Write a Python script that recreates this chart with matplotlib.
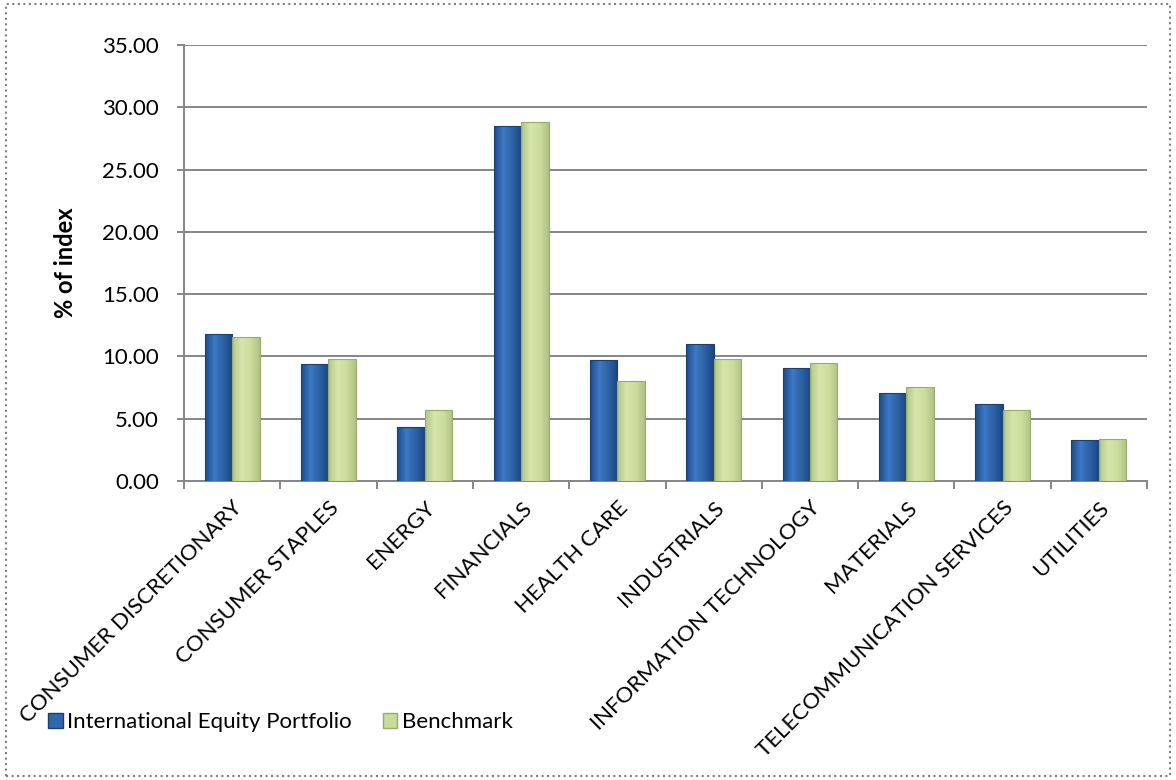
import numpy as np
import matplotlib
matplotlib.use("Agg")
import matplotlib.pyplot as plt
from matplotlib.patches import Rectangle, Patch
from matplotlib.colors import LinearSegmentedColormap

# Sector weights (% of index)
sectors = ["CONSUMER DISCRETIONARY", "CONSUMER STAPLES", "ENERGY", "FINANCIALS",
           "HEALTH CARE", "INDUSTRIALS", "INFORMATION TECHNOLOGY", "MATERIALS",
           "TELECOMMUNICATION SERVICES", "UTILITIES"]
portfolio = [11.80, 9.39, 4.31, 28.50, 9.71, 10.97, 9.04, 7.03, 6.15, 3.26]
benchmark = [11.53, 9.79, 5.70, 28.80, 8.05, 9.77, 9.44, 7.52, 5.70, 3.37]

plt.rcParams['font.family'] = ['Lato', 'DejaVu Sans']

fig = plt.figure(figsize=(11.76, 7.8), dpi=100)
ax = fig.add_axes([0.1565, 0.3833, 0.8189, 0.559])

x = np.arange(len(sectors))
w = 0.285
bars_p = ax.bar(x - w / 2, portfolio, w, color='#2F66AC', edgecolor='#1B3F6E', linewidth=0.8,
                zorder=3)
bars_b = ax.bar(x + w / 2, benchmark, w, color='#CADC9C', edgecolor='#98AC6A', linewidth=0.8,
                zorder=3)

# horizontal shading inside each bar, roughly like the bevelled Excel bars
blue_cmap = LinearSegmentedColormap.from_list('b', ['#1E4B87', '#3C78C4', '#2C62A6', '#1C4680'])
green_cmap = LinearSegmentedColormap.from_list('g', ['#B2C68A', '#D6E5AC', '#CCDD9F', '#AFC387'])
grad = np.linspace(0, 1, 64).reshape(1, -1)
for bars, cmap in [(bars_p, blue_cmap), (bars_b, green_cmap)]:
    for b in bars:
        x0, y0 = b.get_x(), b.get_y()
        im = ax.imshow(grad, cmap=cmap, aspect='auto', zorder=3.5,
                       extent=[x0, x0 + b.get_width(), y0, y0 + b.get_height()])
        im.set_clip_path(b)
        b.set_facecolor('none')
        b.set_zorder(4)

ax.set_xlim(-0.5, len(sectors) - 0.5)
ax.set_ylim(0, 35)
yt = np.arange(0, 35.1, 5)
ax.set_yticks(yt)
ax.set_yticklabels([f"{v:.2f}" for v in yt], fontsize=16)
ax.yaxis.grid(True, color='#868686', linewidth=1.4, zorder=0)
ax.set_axisbelow(True)

# category ticks sit between groups
ax.set_xticks(np.arange(-0.5, len(sectors), 1.0))
ax.set_xticklabels([])
ax.set_xticks(x, minor=True)
ax.set_xticklabels(sectors, minor=True, rotation=45, ha='right', va='top',
                   rotation_mode='anchor', fontsize=16)
ax.tick_params(axis='x', which='minor', length=0, pad=12)
ax.tick_params(axis='x', which='major', length=6, color='#868686', width=1.4)
ax.tick_params(axis='y', length=5, color='#868686', width=1.4, pad=13)

for side in ['top', 'right']:
    ax.spines[side].set_visible(False)
for side in ['left', 'bottom']:
    ax.spines[side].set_color('#868686')
    ax.spines[side].set_linewidth(1.4)

ax.set_ylabel('% of index', fontsize=17, fontweight='bold')
ax.yaxis.set_label_coords(-0.111, 0.5)

handles = [Patch(facecolor='#2F66AC', edgecolor='#1B3F6E', label='International Equity Portfolio'),
           Patch(facecolor='#CADC9C', edgecolor='#98AC6A', label='Benchmark')]
ax.legend(handles=handles, loc='center left', bbox_to_anchor=(0.041, 0.074),
          bbox_transform=fig.transFigure, ncol=2, frameon=False, fontsize=16,
          handlelength=0.65, handleheight=0.65, handletextpad=0.2, columnspacing=1.4,
          borderaxespad=0, borderpad=0)

# dotted outer border
fig.patches.append(Rectangle((0.005, 0.005), 0.99, 0.99, transform=fig.transFigure,
                             fill=False, edgecolor='#7F7F7F', linestyle=':', linewidth=1.5))

fig.savefig('out.png', dpi=100)
